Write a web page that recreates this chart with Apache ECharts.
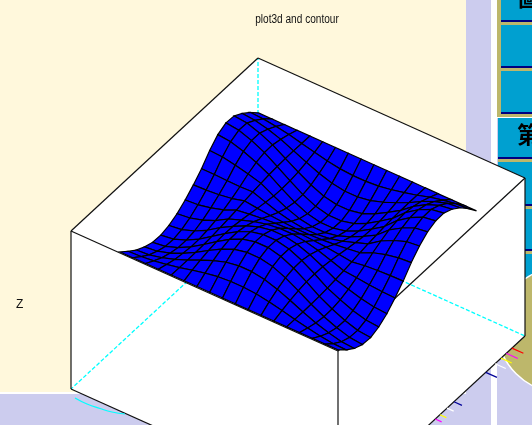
<!DOCTYPE html>
<html><head><meta charset="utf-8">
<style>html,body{margin:0;padding:0;background:#fff}#c{width:532px;height:425px}</style>
<script src="https://cdn.jsdelivr.net/npm/echarts@6/dist/echarts.min.js"></script>
</head><body><div id="c"></div>
<script>
// Surface heights: rows follow the front-left edge, columns run towards the back.
const surfaceZ = [
[0,-.31,-.60,-.81,-.96,-1,-.94,-.79,-.56,-.27,.06,.48,.80,.95,.90,.66,.36,0],
[0,-.29,-.56,-.75,-.89,-.93,-.87,-.73,-.52,-.25,.06,.45,.74,.88,.84,.61,.33,0],
[0,-.23,-.44,-.59,-.70,-.73,-.69,-.58,-.41,-.20,.04,.35,.58,.69,.66,.48,.26,0],
[0,-.14,-.27,-.36,-.43,-.45,-.42,-.36,-.25,-.12,.03,.22,.36,.43,.41,.30,.16,0],
[0,-.03,-.06,-.08,-.09,-.09,-.07,-.05,-.02,.02,.05,.07,.09,.09,.08,.06,.03,0],
[0,.10,.18,.24,.27,.26,.22,.14,.05,-.05,-.14,-.22,-.26,-.27,-.24,-.18,-.10,0],
[0,.22,.40,.54,.60,.58,.48,.32,.11,-.11,-.32,-.48,-.58,-.60,-.54,-.40,-.22,0],
[0,.31,.57,.77,.85,.82,.68,.45,.15,-.15,-.45,-.68,-.82,-.85,-.77,-.57,-.31,0],
[0,.35,.66,.88,.98,.94,.78,.52,.18,-.18,-.52,-.78,-.94,-.98,-.88,-.66,-.35,0],
[0,.35,.66,.88,.98,.94,.78,.52,.18,-.18,-.52,-.78,-.94,-.98,-.88,-.66,-.35,0],
[0,.31,.57,.77,.85,.82,.68,.45,.15,-.15,-.45,-.68,-.82,-.85,-.77,-.57,-.31,0],
[0,.22,.40,.54,.60,.58,.48,.32,.11,-.11,-.32,-.48,-.58,-.60,-.54,-.40,-.22,0],
[0,.10,.18,.24,.27,.26,.22,.14,.05,-.05,-.14,-.22,-.26,-.27,-.24,-.18,-.10,0],
[0,-.03,-.06,-.08,-.09,-.09,-.07,-.05,-.02,.02,.05,.07,.09,.09,.08,.06,.03,0],
[0,-.15,-.28,-.36,-.38,-.34,-.24,-.10,.06,.26,.41,.53,.58,.57,.49,.36,.19,0],
[0,-.25,-.45,-.58,-.62,-.55,-.39,-.16,.10,.42,.67,.85,.94,.93,.80,.59,.31,0],
[0,-.32,-.58,-.74,-.79,-.70,-.50,-.20,.13,.53,.86,1.09,1.20,1.18,1.01,.75,.40,0],
[0,-.34,-.62,-.80,-.85,-.75,-.54,-.22,.14,.57,.92,1.17,1.29,1.27,1.09,.81,.43,0]
];
// Box corners in unit coordinates.
const boxCorners = [[0,0,0],[1,0,0],[1,1,0],[0,1,0],[0,0,1],[1,0,1],[1,1,1],[0,1,1]];
const boxFaces = [[4,5,6,7],[0,1,5,4],[1,2,6,5]];
const hiddenEdges = [[3,0],[3,2],[3,7]];
const visibleEdges = [[4,5],[5,6],[6,7],[7,4],[0,4],[1,5],[2,6],[0,1],[1,2]];
// Coloured ticks along the lower right box edge.
const tickPositions = [.93,.90,.872,.84,.79,.62,.583,.545,.52];
const tickLengths = [.043,.043,.04,.04,.042,.03,.025,.024,.024];
const tickColors = ['#ff0000','#ff00ff','#ffff00','#ffffff','#000099','#000099','#ffffff','#ffff00','#ff00ff'];
// Cyan contour piece below the box.
const contourPath = [[75,398],[87,404],[100,408.5],[112,412],[125,414]];

const project = {
  box: {o:[71,389], x:[267,120], y:[187,-173], z:[0,-158]},
  surf: {o:[120,252], x:[12.82,5.76], y:[8.15,-8.18], z:24}
};
const boxPoint = (c, api) => {
  const p = project.box;
  return api.coord([p.o[0]+c[0]*p.x[0]+c[1]*p.y[0]+c[2]*p.z[0], p.o[1]+c[0]*p.x[1]+c[1]*p.y[1]+c[2]*p.z[1]]);
};
const surfPoint = (i, j, api) => {
  const p = project.surf;
  return api.coord([p.o[0]+i*p.x[0]+j*p.y[0], p.o[1]+i*p.x[1]+j*p.y[1]-surfaceZ[i][j]*p.z]);
};
const cells = [];
for (let i = 0; i < surfaceZ.length-1; i++)
  for (let j = surfaceZ[0].length-2; j >= 0; j--) cells.push([i,j]);
const idx = a => a.map((_, k) => [k]);

const edgeSeries = (edges, style) => ({
  type:'custom', silent:true, clip:false, data:idx(edges),
  renderItem(params, api){
    const e = edges[params.dataIndex], a = boxPoint(boxCorners[e[0]],api), b = boxPoint(boxCorners[e[1]],api);
    return {type:'line', shape:{x1:a[0],y1:a[1],x2:b[0],y2:b[1]}, style:style};
  }
});

const bg = [
  ['rect',0,0,532,425,'#ccccee'],
  ['rect',0,0,466,392,'#fff8dc'],
  ['rect',0,392,466,2,'#ffffff'],
  ['rect',491,0,6,425,'#ffffff'],
  ['rect',497,0,35,118,'#bdb76b'],
  ['rect',501,0,31,20,'#00a0d0'],['rect',501,20,31,2,'#000080'],
  ['rect',501,25,31,41,'#00a0d0'],['rect',501,66,31,2,'#000080'],
  ['rect',501,71,31,41,'#00a0d0'],['rect',501,112,31,2,'#000080'],
  ['rect',497,117,35,1,'#ffffff'],
  ['rect',498,118,34,39,'#00a0d0'],['rect',498,157,34,2,'#000080'],['rect',498,159,34,3,'#bdb76b'],
  ['rect',498,162,34,42,'#00a0d0'],['rect',498,204,34,2,'#000080'],['rect',498,206,34,3,'#bdb76b'],
  ['rect',498,209,34,40,'#00a0d0'],['rect',498,249,34,2,'#000080'],['rect',498,251,34,3,'#bdb76b'],
  ['rect',498,254,34,42,'#00a0d0'],['rect',498,296,34,2,'#000080']
];
const bgElements = bg.map(r => ({type:'rect', silent:true, z:-30, shape:{x:r[1],y:r[2],width:r[3],height:r[4]}, style:{fill:r[5]}}));
bgElements.push(
  {type:'circle', silent:true, z:-20, shape:{cx:560,cy:330,r:62}, style:{fill:'#bdb76b',stroke:'#ffffff',lineWidth:1.5}},
  {type:'text', silent:true, z:-20, style:{text:'第',x:517,y:123,fill:'#000',font:'bold 23px "Noto Sans CJK TC"'}},
  {type:'text', silent:true, z:-20, style:{text:'圖',x:518,y:-14,fill:'#000',font:'bold 23px "Noto Sans CJK TC"'}},
  {type:'text', silent:true, z:10, x:297, y:20, scaleX:.84, style:{text:'plot3d and contour',x:0,y:0,align:'center',verticalAlign:'middle',fill:'#111',font:'12px "Liberation Sans"'}}
);

const chart = echarts.init(document.getElementById('c'), null, {renderer:'canvas'});
chart.setOption({
  animation:false,
  title:[
    {text:'Z', left:11, top:294, padding:[5,5], textStyle:{fontFamily:'Liberation Sans',fontSize:12,fontWeight:'normal',color:'#111'}}
  ],
  grid:{left:0,right:0,top:0,bottom:0},
  xAxis:{type:'value',min:0,max:532,show:false},
  yAxis:{type:'value',min:0,max:425,inverse:true,show:false},
  graphic:{elements:bgElements},
  series:[
    {type:'custom', silent:true, clip:false, data:idx(boxFaces),
     renderItem(params, api){
       return {type:'polygon', shape:{points:boxFaces[params.dataIndex].map(c=>boxPoint(boxCorners[c],api))}, style:{fill:'#fff'}};
     }},
    edgeSeries(hiddenEdges,{stroke:'#00ffff',lineWidth:1.3,lineDash:[4,2]}),
    edgeSeries(visibleEdges,{stroke:'#111',lineWidth:1.2}),
    {type:'custom', silent:true, clip:false, data:idx(tickPositions),
     renderItem(params, api){
       const k = params.dataIndex, a = boxPoint([1,tickPositions[k],0],api), b = boxPoint([1+tickLengths[k],tickPositions[k],0],api);
       return {type:'line', shape:{x1:a[0],y1:a[1],x2:b[0],y2:b[1]}, style:{stroke:tickColors[k],lineWidth:1.2}};
     }},
    {type:'line', silent:true, data:contourPath, smooth:true, showSymbol:false, lineStyle:{color:'#00ffff',width:1.2}},
    {type:'custom', silent:true, clip:false, data:cells,
     renderItem(params, api){
       const c = cells[params.dataIndex], i = c[0], j = c[1];
       return {type:'polygon', shape:{points:[surfPoint(i,j,api),surfPoint(i+1,j,api),surfPoint(i+1,j+1,api),surfPoint(i,j+1,api)]},
               style:{fill:'#0000ff',stroke:'#000',lineWidth:1.2}};
     }}
  ]
});
</script></body></html>
